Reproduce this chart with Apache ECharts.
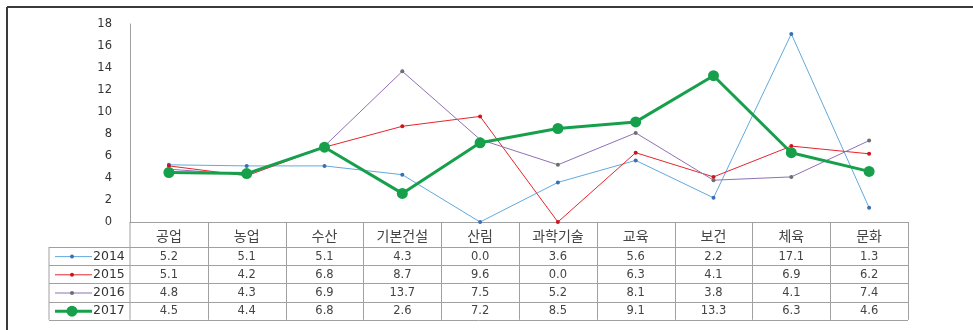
<!DOCTYPE html>
<html>
<head>
<meta charset="utf-8">
<script src="https://cdn.jsdelivr.net/npm/echarts@6/dist/echarts.min.js"></script>
<style>
  html, body { margin: 0; padding: 0; background: #fff; }
  #chart { width: 973px; height: 330px; }
</style>
</head>
<body>
<div id="chart"></div>
<script>
// Sectors (x categories)
const categories = ['공업', '농업', '수산', '기본건설', '산림', '과학기술', '교육', '보건', '체육', '문화'];
// Yearly values per sector
const years = ['2014', '2015', '2016', '2017'];
const v2014 = [5.2, 5.1, 5.1, 4.3, 0.0, 3.6, 5.6, 2.2, 17.1, 1.3];
const v2015 = [5.1, 4.2, 6.8, 8.7, 9.6, 0.0, 6.3, 4.1, 6.9, 6.2];
const v2016 = [4.8, 4.3, 6.9, 13.7, 7.5, 5.2, 8.1, 3.8, 4.1, 7.4];
const v2017 = [4.5, 4.4, 6.8, 2.6, 7.2, 8.5, 9.1, 13.3, 6.3, 4.6];
const yTicks = [0, 2, 4, 6, 8, 10, 12, 14, 16, 18];

const seriesData = [v2014, v2015, v2016, v2017];
const styles = [
  { line: '#62a9dc', dot: '#3b6fb4', width: 1, size: 4 },
  { line: '#e4262c', dot: '#d0141c', width: 1, size: 4 },
  { line: '#9070b4', dot: '#6e6e6e', width: 1, size: 4 },
  { line: '#17a04b', dot: '#17a04b', width: 3, size: 11 }
];

const GRID = { left: 130, right: 65, top: 24, bottom: 108 };
const W = 973, H = 330;
const gridBottomY = H - GRID.bottom;
const gridRightX = W - GRID.right;
const rowH = 18.2;
const headerH = 25;
const legendLeft = 49;
const tableLine = '#a0a0a0';
const textColor = '#444';

const chart = echarts.init(document.getElementById('chart'));

chart.setOption({
  animation: false,
  backgroundColor: '#fff',
  grid: GRID,
  xAxis: {
    type: 'category',
    data: categories,
    boundaryGap: true,
    axisLine: { show: true, lineStyle: { color: tableLine, width: 1 } },
    axisTick: { show: false },
    axisLabel: { show: false },
    splitLine: { show: false }
  },
  yAxis: {
    type: 'value',
    min: yTicks[0],
    max: yTicks[yTicks.length - 1],
    interval: 2,
    axisLine: { show: true, lineStyle: { color: tableLine, width: 1 } },
    axisTick: { show: false },
    splitLine: { show: false },
    axisLabel: {
      margin: 18,
      color: '#333',
      fontFamily: 'DejaVu Sans',
      fontSize: 11.5
    }
  },
  series: seriesData.map((d, i) => ({
    name: years[i],
    type: 'line',
    data: d,
    symbol: 'circle',
    symbolSize: styles[i].size,
    lineStyle: { color: styles[i].line, width: styles[i].width },
    itemStyle: { color: styles[i].dot },
    z: i === 3 ? 5 : 2
  }))
});

// Data table under the plot, aligned to the category axis
function buildTable() {
  const els = [];
  const half = chart.getModel().getComponent('xAxis', 0).axis.getBandWidth() / 2;
  const centers = categories.map((c, i) => chart.convertToPixel({ xAxisIndex: 0 }, i));
  const headerBottom = gridBottomY + headerH;
  const tableBottom = headerBottom + rowH * years.length;

  // outer frame (top and left)
  els.push({ type: 'line', shape: { x1: 7, y1: 7, x2: W, y2: 7 }, style: { stroke: '#3a3a3a', lineWidth: 2 } });
  els.push({ type: 'line', shape: { x1: 7, y1: 7, x2: 7, y2: H }, style: { stroke: '#3a3a3a', lineWidth: 2 } });

  // vertical lines
  els.push({ type: 'line', shape: { x1: GRID.left, y1: gridBottomY, x2: GRID.left, y2: tableBottom }, style: { stroke: tableLine, lineWidth: 1 } });
  els.push({ type: 'line', shape: { x1: legendLeft, y1: headerBottom, x2: legendLeft, y2: tableBottom }, style: { stroke: tableLine, lineWidth: 1 } });
  centers.forEach(cx => {
    const x = Math.round(cx + half) + 0.5;
    els.push({ type: 'line', shape: { x1: x, y1: gridBottomY, x2: x, y2: tableBottom }, style: { stroke: tableLine, lineWidth: 1 } });
  });

  // horizontal lines
  for (let r = 0; r <= years.length; r++) {
    const y = Math.round(headerBottom + r * rowH) + 0.5;
    els.push({ type: 'line', shape: { x1: legendLeft, y1: y, x2: gridRightX, y2: y }, style: { stroke: tableLine, lineWidth: 1 } });
  }

  // header
  centers.forEach((cx, i) => {
    els.push({
      type: 'text', x: cx, y: gridBottomY + headerH / 2 + 1,
      style: { text: categories[i], fill: textColor, font: '14px "Noto Sans CJK KR"', textAlign: 'center', textVerticalAlign: 'middle' }
    });
  });

  // rows
  years.forEach((yr, r) => {
    const cy = headerBottom + r * rowH + rowH / 2 + 0.5;
    const st = styles[r];
    els.push({ type: 'line', shape: { x1: 55, y1: cy, x2: 92, y2: cy }, style: { stroke: st.line, lineWidth: st.width } });
    els.push({ type: 'circle', shape: { cx: 72, cy: cy, r: r === 3 ? 5.5 : 2 }, style: { fill: st.dot } });
    els.push({
      type: 'text', x: 93, y: cy,
      style: { text: yr, fill: '#333', font: '12.5px "DejaVu Sans"', textAlign: 'left', textVerticalAlign: 'middle' }
    });
    seriesData[r].forEach((v, i) => {
      els.push({
        type: 'text', x: centers[i], y: cy,
        style: { text: v.toFixed(1), fill: textColor, font: '11.5px "DejaVu Sans"', textAlign: 'center', textVerticalAlign: 'middle' }
      });
    });
  });

  chart.setOption({ graphic: { elements: els } });
}
buildTable();
</script>
</body>
</html>
